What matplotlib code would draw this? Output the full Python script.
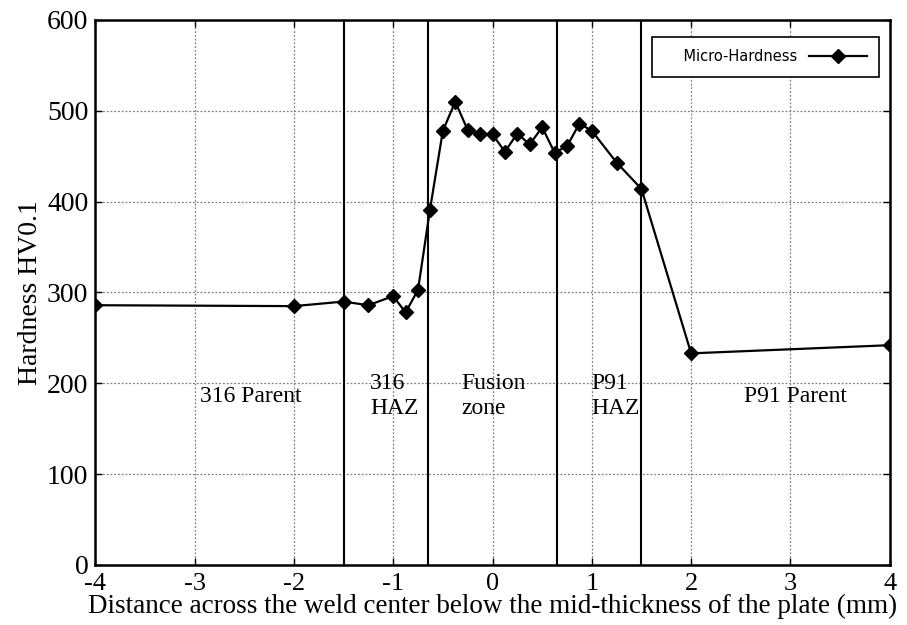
# Micro-hardness profile across the weld

import matplotlib.pyplot as plt

# Measured points (distance in mm, hardness HV0.1)
distance = [-4, -2, -1.5, -1.25, -1.0, -0.875, -0.75, -0.63, -0.5, -0.375,
            -0.25, -0.125, 0, 0.125, 0.25, 0.375, 0.5, 0.625, 0.75, 0.875,
            1.0, 1.25, 1.5, 2.0, 4.0]
hardness = [286, 285, 290, 286, 296, 278, 303, 391, 478, 510,
            479, 474, 474, 455, 475, 463, 482, 454, 461, 486,
            478, 443, 414, 233, 242]

# Zone boundaries and labels
boundaries = [-1.5, -0.65, 0.65, 1.5]
zone_labels = ["316 Parent", "316\nHAZ", "Fusion\nzone", "P91\nHAZ", "P91 Parent"]
zone_x = [-2.43, -1.23, -0.31, 1.0, 3.05]
zone_align = ["center", "left", "left", "left", "center"]

plt.rcParams["font.family"] = ["Liberation Serif", "DejaVu Serif"]
plt.rcParams["axes.unicode_minus"] = False

fig = plt.figure(figsize=(9.07, 6.25), dpi=100)
ax = fig.add_axes([0.105, 0.096, 0.876, 0.872])

ax.plot(distance, hardness, color="black", lw=1.6, marker="D", ms=7,
        label="    Micro-Hardness")

for b in boundaries:
    ax.axvline(b, color="black", lw=1.5)

for lab, x, ha in zip(zone_labels, zone_x, zone_align):
    ax.text(x, 186, lab, ha=ha, va="center", fontsize=17, linespacing=1.25)

ax.set_xlim(-4, 4)
ax.set_ylim(0, 600)
ax.set_xticks(range(-4, 5))
ax.set_yticks(range(0, 601, 100))
ax.grid(True, color="gray", linestyle=(0, (1.5, 1.5)), lw=0.9)
ax.tick_params(direction="in", labelsize=20, length=5, width=1,
               top=True, right=True)
ax.tick_params(axis="x", pad=6, labelsize=19)
ax.tick_params(axis="y", pad=5)
for s in ax.spines.values():
    s.set_linewidth(1.8)

ax.set_xlabel("Distance across the weld center below the mid-thickness of the plate (mm)",
              fontsize=19.5, labelpad=-1)
ax.set_ylabel("Hardness HV0.1", fontsize=20, labelpad=3)

leg = ax.legend(loc="upper right", markerfirst=False, fancybox=False,
                edgecolor="black", framealpha=1, handlelength=4.0,
                prop={"family": "DejaVu Sans", "size": 10.5},
                bbox_to_anchor=(0.996, 0.982), borderpad=0.85)
leg.get_frame().set_linewidth(1.2)

fig.savefig("out.png", dpi=100)
